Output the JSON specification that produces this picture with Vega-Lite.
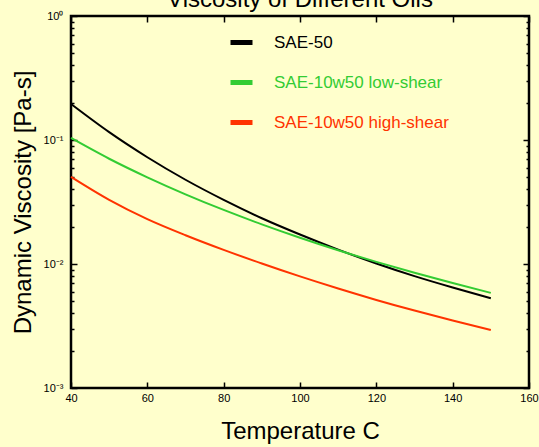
{
  "$schema": "https://vega.github.io/schema/vega-lite/v6.json",
  "autosize": "none",
  "width": 458,
  "height": 372,
  "padding": {"left": 71, "top": 16, "right": 10, "bottom": 59},
  "background": "#FFFFCC",
  "title": {"text": "Viscosity of Different Oils", "fontSize": 24, "font": "Liberation Sans", "fontWeight": "normal", "offset": 0, "dy": 21, "baseline": "alphabetic", "anchor": "middle", "frame": "group", "color": "black"},
  "config": {
    "view": {"stroke": "black", "strokeWidth": 2.5, "fill": "#FFFFCC"},
    "axis": {"labelFont": "Liberation Sans", "titleFont": "Liberation Sans", "labelColor": "black", "titleColor": "black", "titleFontWeight": "normal", "grid": false, "domain": false, "tickColor": "black", "tickWidth": 1.5}
  },
  "data": {"values": [
    {"T": 40, "oil": "SAE-50", "visc": 0.1950},
    {"T": 50, "oil": "SAE-50", "visc": 0.1156},
    {"T": 60, "oil": "SAE-50", "visc": 0.0726},
    {"T": 70, "oil": "SAE-50", "visc": 0.0478},
    {"T": 80, "oil": "SAE-50", "visc": 0.0329},
    {"T": 90, "oil": "SAE-50", "visc": 0.0234},
    {"T": 100, "oil": "SAE-50", "visc": 0.0173},
    {"T": 110, "oil": "SAE-50", "visc": 0.01306},
    {"T": 120, "oil": "SAE-50", "visc": 0.01009},
    {"T": 130, "oil": "SAE-50", "visc": 0.00798},
    {"T": 140, "oil": "SAE-50", "visc": 0.00646},
    {"T": 150, "oil": "SAE-50", "visc": 0.00530},
    {"T": 40, "oil": "SAE-10w50 low-shear", "visc": 0.1038},
    {"T": 50, "oil": "SAE-10w50 low-shear", "visc": 0.0706},
    {"T": 60, "oil": "SAE-10w50 low-shear", "visc": 0.0500},
    {"T": 70, "oil": "SAE-10w50 low-shear", "visc": 0.03648},
    {"T": 80, "oil": "SAE-10w50 low-shear", "visc": 0.02729},
    {"T": 90, "oil": "SAE-10w50 low-shear", "visc": 0.02089},
    {"T": 100, "oil": "SAE-10w50 low-shear", "visc": 0.01629},
    {"T": 110, "oil": "SAE-10w50 low-shear", "visc": 0.01291},
    {"T": 120, "oil": "SAE-10w50 low-shear", "visc": 0.0104},
    {"T": 130, "oil": "SAE-10w50 low-shear", "visc": 0.00849},
    {"T": 140, "oil": "SAE-10w50 low-shear", "visc": 0.00702},
    {"T": 150, "oil": "SAE-10w50 low-shear", "visc": 0.00585},
    {"T": 40, "oil": "SAE-10w50 high-shear", "visc": 0.0504},
    {"T": 50, "oil": "SAE-10w50 high-shear", "visc": 0.0329},
    {"T": 60, "oil": "SAE-10w50 high-shear", "visc": 0.0230},
    {"T": 70, "oil": "SAE-10w50 high-shear", "visc": 0.01706},
    {"T": 80, "oil": "SAE-10w50 high-shear", "visc": 0.0130},
    {"T": 90, "oil": "SAE-10w50 high-shear", "visc": 0.01009},
    {"T": 100, "oil": "SAE-10w50 high-shear", "visc": 0.00794},
    {"T": 110, "oil": "SAE-10w50 high-shear", "visc": 0.00634},
    {"T": 120, "oil": "SAE-10w50 high-shear", "visc": 0.00513},
    {"T": 130, "oil": "SAE-10w50 high-shear", "visc": 0.00421},
    {"T": 140, "oil": "SAE-10w50 high-shear", "visc": 0.00350},
    {"T": 150, "oil": "SAE-10w50 high-shear", "visc": 0.00294}
  ]},
  "resolve": {"axis": {"x": "independent", "y": "independent"}},
  "layer": [
    {
      "mark": {"type": "line", "strokeWidth": 2, "interpolate": "monotone"},
      "encoding": {
        "x": {"field": "T", "type": "quantitative", "scale": {"domain": [40, 160], "nice": false, "zero": false},
              "axis": {"orient": "bottom", "values": [40, 60, 80, 100, 120, 140, 160], "tickSize": -6, "labelFontSize": 11, "labelPadding": 10, "labelFlush": false, "title": "Temperature C", "titleFontSize": 24, "titlePadding": 16}},
        "y": {"field": "visc", "type": "quantitative", "scale": {"type": "log", "domain": [0.001, 1], "nice": false},
              "axis": {"orient": "left",
                       "values": [0.001, 0.002, 0.003, 0.004, 0.005, 0.006, 0.007, 0.008, 0.009, 0.01, 0.02, 0.03, 0.04, 0.05, 0.06, 0.07, 0.08, 0.09, 0.1, 0.2, 0.3, 0.4, 0.5, 0.6, 0.7, 0.8, 0.9, 1],
                       "labelExpr": "datum.value == 1 ? '10⁰' : datum.value == 0.1 ? '10⁻¹' : datum.value == 0.01 ? '10⁻²' : datum.value == 0.001 ? '10⁻³' : ''",
                       "tickSize": {"condition": {"test": "datum.value == 1 || datum.value == 0.1 || datum.value == 0.01 || datum.value == 0.001", "value": -6}, "value": -3},
                       "labelFontSize": 11, "labelPadding": 14, "labelFlush": false, "labelOverlap": false,
                       "title": "Dynamic Viscosity [Pa-s]", "titleFontSize": 24, "titlePadding": 8}},
        "color": {"field": "oil", "type": "nominal",
                  "scale": {"domain": ["SAE-50", "SAE-10w50 low-shear", "SAE-10w50 high-shear"], "range": ["#000000", "#33CC33", "#FF3300"]},
                  "legend": {"title": null, "orient": "none", "legendX": 157, "legendY": 13, "symbolType": "stroke", "symbolSize": 484, "symbolStrokeWidth": 5, "labelFont": "Liberation Sans", "labelFontSize": 17, "labelOffset": 19, "labelLimit": 400, "rowPadding": 16,
                             "encode": {"labels": {"update": {"fill": {"scale": "color", "field": "value"}}}}}}
      }
    },
    {
      "mark": {"type": "line", "opacity": 0},
      "encoding": {
        "x": {"field": "T", "type": "quantitative", "axis": {"orient": "top", "values": [40, 60, 80, 100, 120, 140, 160], "tickSize": -6, "labels": false, "title": null}},
        "y": {"field": "visc", "type": "quantitative",
              "axis": {"orient": "right", "values": [0.001, 0.002, 0.003, 0.004, 0.005, 0.006, 0.007, 0.008, 0.009, 0.01, 0.02, 0.03, 0.04, 0.05, 0.06, 0.07, 0.08, 0.09, 0.1, 0.2, 0.3, 0.4, 0.5, 0.6, 0.7, 0.8, 0.9, 1],
                       "tickSize": {"condition": {"test": "datum.value == 1 || datum.value == 0.1 || datum.value == 0.01 || datum.value == 0.001", "value": -6}, "value": -3},
                       "labels": false, "title": null}},
        "detail": {"field": "oil", "type": "nominal"}
      }
    }
  ]
}
